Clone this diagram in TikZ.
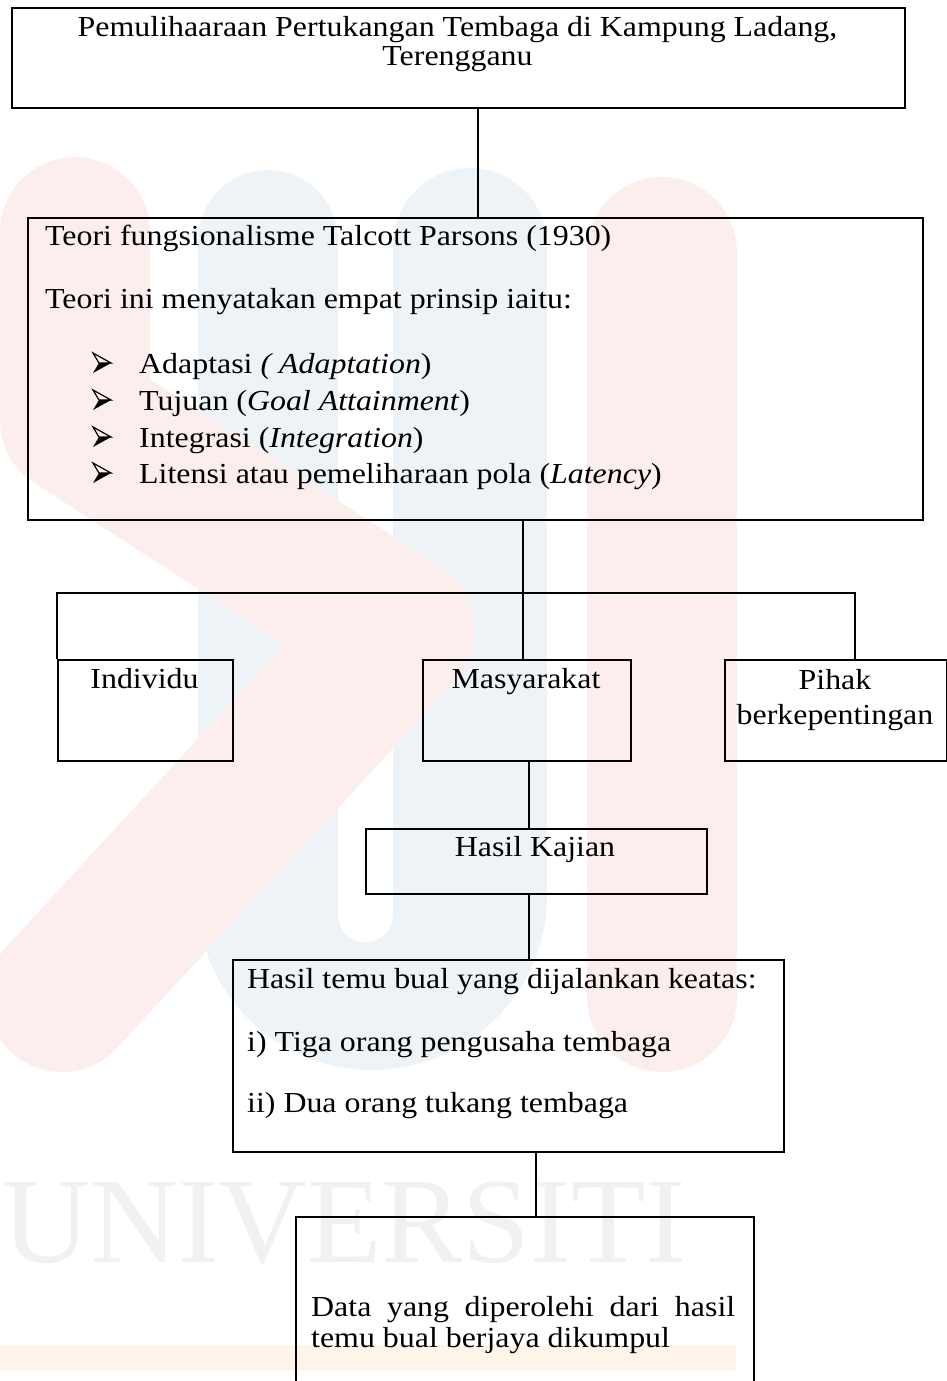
\documentclass[tikz,border=0pt]{standalone}
\usepackage{fontspec}
\setmainfont{Liberation Serif}[FakeStretch=1.10]
\newfontfamily\wmfont{Liberation Serif}
\definecolor{wmred}{HTML}{FDEEEE}
\definecolor{wmblue}{HTML}{EEF3F8}
\definecolor{wmgray}{HTML}{F1F1F1}
\definecolor{wmorange}{HTML}{FFF4EA}
\begin{document}
\begin{tikzpicture}[x=1pt,y=-1pt,
  box/.style={draw=black, line width=2.4pt, inner sep=0pt, anchor=north west},
  conn/.style={draw=black, line width=1.5pt},
  txt/.style={inner sep=0pt, anchor=base west, font=\fontsize{29}{34}\selectfont},
  ctxt/.style={inner sep=0pt, anchor=base, font=\fontsize{29}{34}\selectfont},
  wm/.style={line width=150pt, line cap=round, line join=round},
]
\useasboundingbox (0,0) rectangle (947,1381);
\clip (0,0) rectangle (947,1381);
% ---------- faint watermark ----------
\draw[wm, wmblue, line width=140pt] (268,240) -- (268,900);
\draw[wm, wmblue, line width=154pt] (470,245) -- (470,900);
\begin{scope}
  \clip (0,895) rectangle (947,1100);
  \fill[wmblue] (372,895) circle (175pt);
\end{scope}
\fill[wmblue] (197,880) rectangle (547,900);
\draw[white, line width=55pt, line cap=round] (365.5,100) -- (365.5,915);
\draw[wm, wmred] (75,232) -- (75,420) -- (400,630) -- (62,997);
\draw[wm, wmred] (662,252) -- (662,997);
\node[inner sep=0pt, anchor=base west, text=wmgray, font=\wmfont\fontsize{122}{122}\selectfont] (wmtext) at (2,1262) {UNIVERSITI};
\fill[wmorange] (0,1345) rectangle (736,1371);
% ---------- boxes ----------
\node[box, minimum width=893pt, minimum height=100pt] (title) at (11,7) {};
\node[box, minimum width=895pt, minimum height=302pt] (theory) at (27,217) {};
\node[box, minimum width=175pt, minimum height=101pt] (indiv) at (57,659) {};
\node[box, minimum width=208pt, minimum height=101pt] (masy) at (422,659) {};
\node[box, minimum width=222pt, minimum height=101pt] (pihak) at (724,659) {};
\node[box, minimum width=341pt, minimum height=65pt] (kajian) at (365,828) {};
\node[box, minimum width=551pt, minimum height=192pt] (temu) at (232,959) {};
\node[box, minimum width=458pt, minimum height=220pt] (data) at (295,1216) {};
% ---------- connector guides ----------
\coordinate (c1) at (478,0);
\coordinate (c2) at (523,0);
\coordinate (c3) at (855,0);
\coordinate (c4) at (529,0);
\coordinate (c5) at (536,0);
\coordinate (bus) at (523,593);
% ---------- connectors ----------
\draw[conn] (title.south -| c1) -- (theory.north -| c1);
\draw[conn] (theory.south -| c2) -- (masy.north -| c2);
\draw[conn] (indiv.north west) -- (indiv.north west |- bus) -- (bus -| c3) -- (pihak.north -| c3);
\draw[conn] (masy.south -| c4) -- (kajian.north -| c4);
\draw[conn] (kajian.south -| c4) -- (temu.north -| c4);
\draw[conn] (temu.south -| c5) -- (data.north -| c5);
% ---------- texts ----------
\node[ctxt] (t1a) at (457.5,37) {Pemulihaaraan Pertukangan Tembaga di Kampung Ladang,};
\node[ctxt] (t1b) at (457.5,66) {Terengganu};
\node[txt] (t2a) at (45,245) {Teori fungsionalisme Talcott Parsons (1930)};
\node[txt] (t2b) at (45,308) {Teori ini menyatakan empat prinsip iaitu:};
\node[txt] (b1) at (139,373) {Adaptasi \textit{( Adaptation})};
\node[txt] (b2) at (139,410) {Tujuan (\textit{Goal Attainment})};
\node[txt] (b3) at (139,447) {Integrasi (\textit{Integration})};
\node[txt] (b4) at (139,483) {Litensi atau pemeliharaan pola (\textit{Latency})};
\foreach \b in {373,410,447,483} {
  \fill (99,\b-10) -- (111,\b-10) -- (93,\b) -- cycle;
  \draw[line width=1.2pt, line join=miter] (93,\b-20) -- (111,\b-10) -- (99,\b-10) -- cycle;
}
\node[ctxt] (tind) at (144.5,688) {Individu};
\node[ctxt] (tmas) at (526,688) {Masyarakat};
\node[ctxt] (tpa) at (835,689) {Pihak};
\node[ctxt] (tpb) at (835,724) {berkepentingan};
\node[ctxt] (tkaj) at (535,856) {Hasil Kajian};
\node[txt] (tt1) at (247,988) {Hasil temu bual yang dijalankan keatas:};
\node[txt] (tt2) at (247,1051) {i) Tiga orang pengusaha tembaga};
\node[txt] (tt3) at (247,1112) {ii) Dua orang tukang tembaga};
\node[txt] (td1) at (311,1316) {\makebox[424pt][s]{Data yang diperolehi dari hasil}};
\node[txt] (td2) at (311,1347) {temu bual berjaya dikumpul};
\end{tikzpicture}
\end{document}
